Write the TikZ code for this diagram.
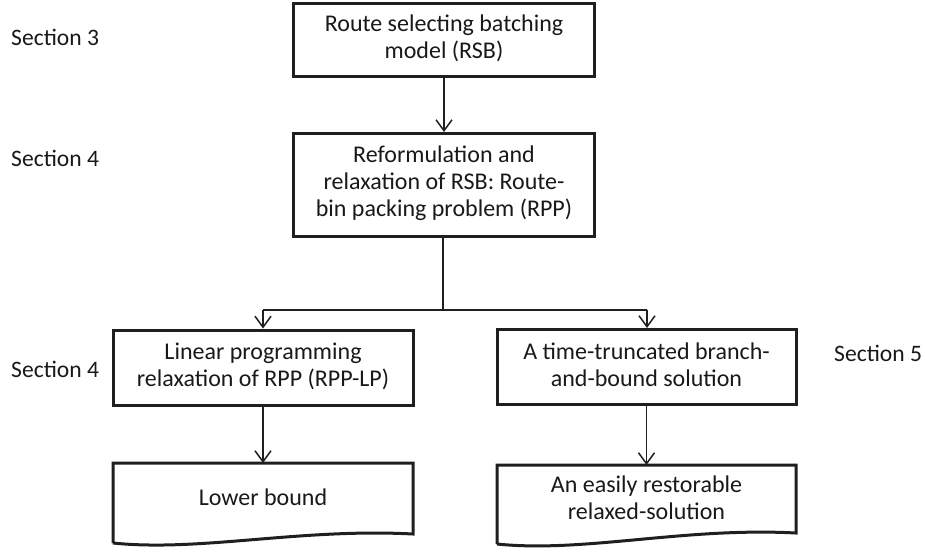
\documentclass[tikz,border=0pt]{standalone}
\usepackage{fontspec}
\setmainfont{Carlito}
\usetikzlibrary{arrows.meta}
\begin{document}
\begin{tikzpicture}[x=1pt,y=-1pt,
  box/.style={draw=black!88,line width=3pt,align=center,inner sep=0pt},
  conn/.style={draw=black!88,line width=1.5pt},
  arr/.style={conn,-{Straight Barb[length=11pt,width=16pt,line width=1.5pt]}},
  txt/.style={font=\fontsize{24}{27}\selectfont,text=black!90,align=center},
  sec/.style={font=\fontsize{23.6}{27}\selectfont,text=black!90,anchor=base west,inner sep=0pt}]
\useasboundingbox (0,0) rectangle (925,552);
% boxes
\node[box,minimum width=301pt,minimum height=73pt] (b1) at (444,39.5) {};
\node[txt] (t1) at (444,38) {Route selecting batching\\model (RSB)};
\node[box,minimum width=301pt,minimum height=103pt] (b2) at (444,185) {};
\node[txt] (t2) at (444,183) {Reformulation and\\relaxation of RSB: Route-\\bin packing problem (RPP)};
\node[box,minimum width=300pt,minimum height=75pt] (b3) at (263,367.5) {};
\node[txt] (t3) at (263,366) {Linear programming\\relaxation of RPP (RPP-LP)};
\node[box,minimum width=299pt,minimum height=75pt] (b4) at (646.5,367) {};
\node[txt] (t4) at (646.5,365) {A time-truncated branch-\\and-bound solution};
% documents
\coordinate (d1tl) at (113,463);
\coordinate (d1tr) at (413,463);
\coordinate (d1br) at (413,534);
\coordinate (d1bl) at (113,543);
\draw[box] (d1bl) -- (d1tl) -- (d1tr) -- (d1br) .. controls (300,528) and (200,552) .. (d1bl);
\node[txt] (t5) at (263,497) {Lower bound};
\coordinate (d2tl) at (497,465);
\coordinate (d2tr) at (796,465);
\coordinate (d2br) at (796,533);
\coordinate (d2bl) at (497,544);
\draw[box] (d2bl) -- (d2tl) -- (d2tr) -- (d2br) .. controls (684,527) and (584,553) .. (d2bl);
\node[txt] (t6) at (646.5,498) {An easily restorable\\relaxed-solution};
% connectors
\draw[arr] (b1.south) -- (b2.north);
\coordinate (split) at (443,310);
\coordinate (sl) at (263,310);
\coordinate (sr) at (647,310);
\draw[conn] (b2.south -| split) -- (split);
\draw[conn] (sl) -- (sr);
\draw[arr] (sl) -- (b3.north -| sl);
\draw[arr] (sr) -- (b4.north -| sr);
\draw[arr] (b3.south) -- (d1tl -| b3.south);
\draw[arr] (b4.south) -- (d2tl -| b4.south);
% section labels
\node[sec] (s1) at (11,45) {Section 3};
\node[sec] (s2) at (11,166) {Section 4};
\node[sec] (s3) at (11,377) {Section 4};
\node[sec] (s4) at (834,361) {Section 5};
\end{tikzpicture}
\end{document}
